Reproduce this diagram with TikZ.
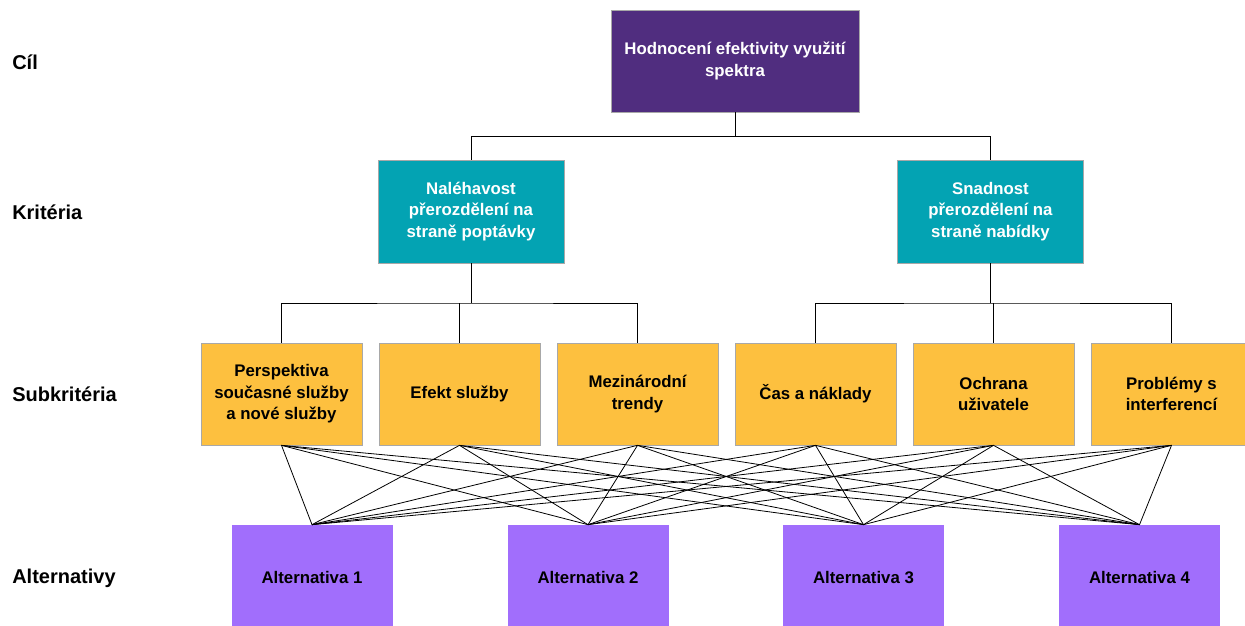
\documentclass[tikz,border=0pt]{standalone}
\usepackage{fontspec}
\setmainfont{Liberation Sans}
\definecolor{goalc}{HTML}{502D7F}
\definecolor{critc}{HTML}{03A3B3}
\definecolor{subc}{HTML}{FDC03F}
\definecolor{altc}{HTML}{A16EFC}
\definecolor{edgec}{HTML}{A8A8A8}
\begin{document}
\begin{tikzpicture}[x=0.75pt,y=-0.75pt,
  box/.style={rectangle, draw=edgec, line width=0.5pt, align=center, inner sep=2pt,
    font=\fontsize{12.6}{16.2}\selectfont\bfseries},
  goalbox/.style={box, fill=goalc, text=white, minimum width=248*0.75pt, minimum height=102*0.75pt},
  critbox/.style={box, fill=critc, text=white, minimum width=186*0.75pt, minimum height=103*0.75pt},
  subbox/.style={box, fill=subc, text=black, minimum width=161*0.75pt, minimum height=102*0.75pt},
  altbox/.style={box, fill=altc, draw=none, text=black, minimum width=161*0.75pt, minimum height=104*0.75pt},
  lvl/.style={anchor=west, font=\fontsize{15}{18}\selectfont\bfseries, inner sep=0pt},
  conn/.style={draw=black, line width=0.75pt},
  web/.style={draw=black, line width=0.6pt}]
\useasboundingbox (0,0) rectangle (1245,625);
% level labels
\node[lvl] (lc) at (12,62) {Cíl};
\node[lvl] (lk) at (12,212) {Kritéria};
\node[lvl] (ls) at (12,394) {Subkritéria};
\node[lvl] (la) at (12,578) {Alternativy};
% goal
\node[goalbox] (goal) at (735,61) {Hodnocení efektivity využití\\spektra};
% criteria
\node[critbox] (k1) at (471,211.5) {Naléhavost\\přerozdělení na\\straně poptávky};
\node[critbox] (k2) at (990.5,211.5) {Snadnost\\přerozdělení na\\straně nabídky};
% subcriteria
\node[subbox] (s1) at (281.5,394) {Perspektiva\\současné služby\\a nové služby};
\node[subbox] (s2) at (459.5,394) {Efekt služby};
\node[subbox] (s3) at (637.5,394) {Mezinárodní\\trendy};
\node[subbox] (s4) at (815.5,394) {Čas a náklady};
\node[subbox] (s5) at (993.5,394) {Ochrana\\uživatele};
\node[subbox] (s6) at (1171.5,394) {Problémy s\\interferencí};
% alternatives
\node[altbox] (a1) at (312,577) {Alternativa 1};
\node[altbox] (a2) at (588,577) {Alternativa 2};
\node[altbox] (a3) at (863.5,577) {Alternativa 3};
\node[altbox] (a4) at (1139.5,577) {Alternativa 4};
% tree connectors
\coordinate (jg) at (735,136);
\draw[conn] (goal.south) -- (jg) -| (k1.north);
\draw[conn] (jg) -| (k2.north);
\coordinate (j1) at (471,303);
\coordinate (j2) at (990.5,303);
\draw[conn] (k1.south) -- (j1);
\draw[conn] (s1.north) |- (j1) -| (s3.north);
\draw[conn] (s2.north) -- (s2.north |- j1);
\draw[conn] (k2.south) -- (j2);
\draw[conn] (s4.north) |- (j2) -| (s6.north);
\draw[conn] (s5.north) -- (s5.north |- j2);
% web
\foreach \s in {s1,s2,s3,s4,s5,s6}{
  \foreach \a in {a1,a2,a3,a4}{
    \draw[web] (\s.south) -- (\a.north);
  }
}
\end{tikzpicture}
\end{document}
